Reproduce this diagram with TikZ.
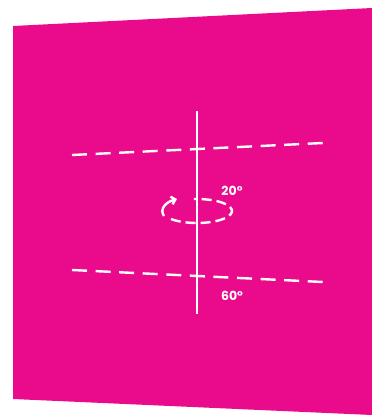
\documentclass[tikz,border=0pt]{standalone}
\usepackage{fontspec}
\setmainfont{Poppins}
\usetikzlibrary{arrows.meta,positioning}
\definecolor{panelpink}{RGB}{233,11,140}

\begin{document}
\begin{tikzpicture}[x=1pt, y=-1pt, >={Straight Barb[length=4pt,width=8pt]},
  wline/.style={white, line width=2.4pt},
  plane/.style={wline, dash pattern=on 15pt off 8.6pt},
  angle/.style={text=white, font=\bfseries\fontsize{12.5}{14}\selectfont}]
  \useasboundingbox (0,0) rectangle (372,415);
  \fill[panelpink] (13,26) -- (372,8) -- (372,415) -- (13,399) -- cycle;
  % axis and planes
  \coordinate (axtop) at (197,111);
  \coordinate (axbot) at (197,314);
  \draw[wline] (axtop) -- (axbot);
  \draw[plane] (72,155) -- (323,143);
  \draw[plane] (72,270) -- (323,282);
  % rotation
  \coordinate (spin) at (197,211);
  \draw[wline, dash pattern=on 10pt off 5pt]
    (spin) ++(222:35pt and 12pt) arc[start angle=222, end angle=455, x radius=35pt, y radius=12pt];
  \draw[wline, ->] (164,216) .. controls (159,209) and (166,202) .. (177,199);
  \node[angle] (up) at (232,191) {20°};
  \node[angle] (low) at (232,296) {60°};
\end{tikzpicture}
\end{document}
